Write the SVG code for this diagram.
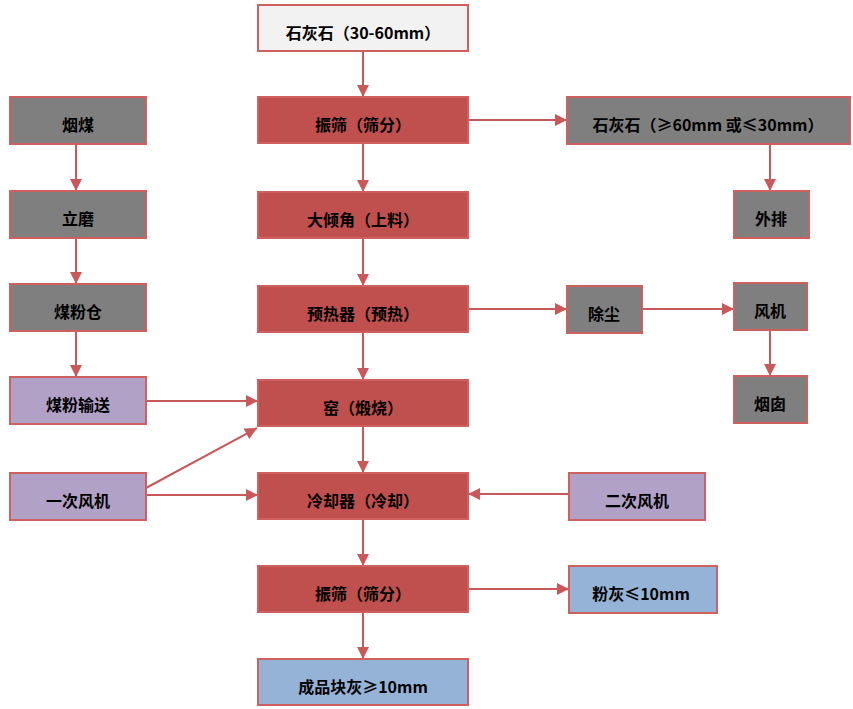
<svg xmlns="http://www.w3.org/2000/svg" width="853" height="709" viewBox="0 0 853 709">
<defs>
<style>
.b{stroke:#d0605e;stroke-width:2}
.red{fill:#c0504d}
.gray{fill:#7f7f7f}
.pur{fill:#b2a1c7}
.blue{fill:#95b3d7}
.lt{fill:#f2f2f2}
text{font-family:"Noto Sans CJK SC","Noto Sans",sans-serif;font-weight:bold;font-size:16px;fill:#000;text-anchor:middle}
.c line{stroke:#c9585a;stroke-width:2;marker-end:url(#ah)}
</style>
<marker id="ah" markerUnits="userSpaceOnUse" markerWidth="14" markerHeight="14" viewBox="0 0 14 14" refX="13" refY="7" orient="auto">
<path d="M1,1 L13,7 L1,13 Z" fill="#c9585a"/>
</marker>
</defs>
<rect width="853" height="709" fill="#fff"/>
<g class="c">
<line x1="363" y1="51" x2="363" y2="97"/>
<line x1="363" y1="143" x2="363" y2="192"/>
<line x1="363" y1="238" x2="363" y2="286"/>
<line x1="363" y1="332" x2="363" y2="380"/>
<line x1="363" y1="426" x2="363" y2="473"/>
<line x1="363" y1="519" x2="363" y2="566"/>
<line x1="363" y1="612" x2="363" y2="659"/>
<line x1="468" y1="120" x2="567" y2="120"/>
<line x1="770" y1="144" x2="770" y2="191"/>
<line x1="468" y1="309" x2="567" y2="309"/>
<line x1="642" y1="309" x2="734" y2="309"/>
<line x1="770" y1="330" x2="770" y2="376"/>
<line x1="569" y1="494" x2="468" y2="494"/>
<line x1="146" y1="401" x2="258" y2="401"/>
<line x1="146" y1="488" x2="257" y2="428"/>
<line x1="146" y1="495" x2="258" y2="495"/>
<line x1="468" y1="589" x2="569" y2="589"/>
<line x1="76" y1="144" x2="76" y2="191"/>
<line x1="76" y1="238" x2="76" y2="284"/>
<line x1="76" y1="331" x2="76" y2="377"/>
</g>
<g id="n1"><rect class="b lt" x="258" y="5" width="210" height="46"/><text x="363" y="39">石灰石（30-60mm）</text></g>
<g id="n2"><rect class="b red" x="258" y="97" width="210" height="46"/><text x="363" y="131">振筛（筛分）</text></g>
<g id="n3"><rect class="b red" x="258" y="192" width="210" height="46"/><text x="363" y="226">大倾角（上料）</text></g>
<g id="n4"><rect class="b red" x="258" y="286" width="210" height="46"/><text x="363" y="320">预热器（预热）</text></g>
<g id="n5"><rect class="b red" x="258" y="380" width="210" height="46"/><text x="363" y="414">窑（煅烧）</text></g>
<g id="n6"><rect class="b red" x="258" y="473" width="210" height="46"/><text x="363" y="507">冷却器（冷却）</text></g>
<g id="n7"><rect class="b red" x="258" y="566" width="210" height="46"/><text x="363" y="600">振筛（筛分）</text></g>
<g id="n8"><rect class="b blue" x="258" y="659" width="210" height="46"/><text x="363" y="693">成品块灰≥10mm</text></g>
<g id="n9"><rect class="b gray" x="10" y="97" width="136" height="47"/><text x="78" y="131">烟煤</text></g>
<g id="n10"><rect class="b gray" x="10" y="191" width="136" height="47"/><text x="78" y="225">立磨</text></g>
<g id="n11"><rect class="b gray" x="10" y="284" width="136" height="47"/><text x="78" y="318">煤粉仓</text></g>
<g id="n12"><rect class="b pur" x="10" y="377" width="136" height="47"/><text x="78" y="411">煤粉输送</text></g>
<g id="n13"><rect class="b pur" x="10" y="473" width="136" height="47"/><text x="78" y="507">一次风机</text></g>
<g id="n14"><rect class="b gray" x="567" y="97" width="283" height="47"/><text x="708" y="131">石灰石（≥60mm 或≤30mm）</text></g>
<g id="n15"><rect class="b gray" x="734" y="191" width="75" height="47"/><text x="771" y="225">外排</text></g>
<g id="n16"><rect class="b gray" x="567" y="286" width="75" height="47"/><text x="604" y="320">除尘</text></g>
<g id="n17"><rect class="b gray" x="734" y="283" width="73" height="47"/><text x="770" y="317">风机</text></g>
<g id="n18"><rect class="b gray" x="734" y="376" width="73" height="47"/><text x="770" y="410">烟囱</text></g>
<g id="n19"><rect class="b pur" x="569" y="473" width="136" height="47"/><text x="637" y="507">二次风机</text></g>
<g id="n20"><rect class="b blue" x="569" y="566" width="148" height="47"/><text x="641" y="600">粉灰≤10mm</text></g>
</svg>
